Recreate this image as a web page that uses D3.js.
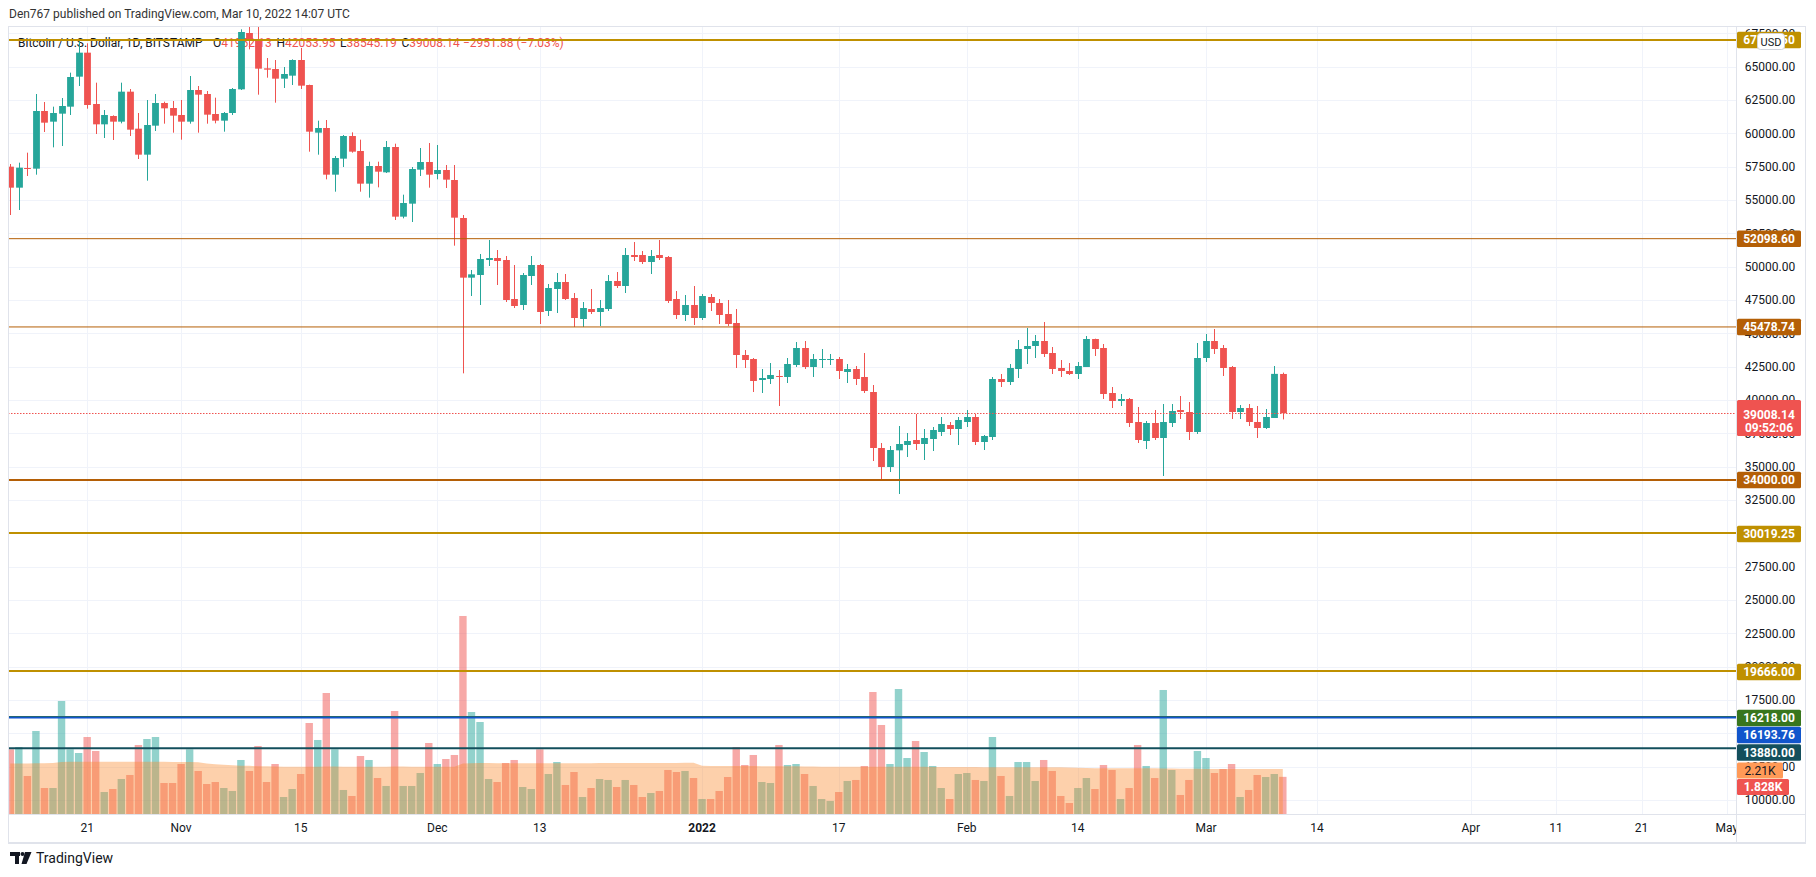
<!DOCTYPE html>
<html><head><meta charset="utf-8">
<script src="https://cdn.jsdelivr.net/npm/d3@7"></script>
<style>
html,body{margin:0;padding:0;background:#fff;}
svg{display:block;font-family:Roboto,"Noto Sans",sans-serif;}
</style></head>
<body>
<svg id="chart" width="1816" height="877"></svg>
<script>
// ---------------- DATA ----------------
const firstDay = "2021-10-12"; // first candle (daily, consecutive)
const opens = [57500,55925,57400,57350,61675,60875,61475,62000,64250,66050,62200,60675,61300,60875,63125,60350,58400,60575,62275,61900,
61375,60875,63250,62950,61450,60950,61525,63300,67525,67025,64875,64825,64100,64325,65500,63625,60050,60400,56900,58100,
59800,58675,56225,57550,57075,58975,53750,54725,57275,57850,56950,57250,56500,53650,49175,49375,50500,50650,50500,47575,
47125,49300,50125,46675,48325,48850,47650,46075,46825,46600,46825,48925,48550,50875,50875,50350,50875,50725,47575,46375,
47125,46150,47725,47275,46450,45775,43375,43075,41500,41575,41800,41725,42625,43900,42475,43000,43000,43075,42100,42325,
41725,40600,36400,34975,36225,36625,37000,36700,37075,37600,38125,37825,38350,38725,36850,37225,41575,41350,42325,43825,
44050,44425,43525,42400,42175,41950,42475,44575,43900,40525,39925,40075,38350,36925,38275,37150,38275,39250,39100,37600,
43150,44425,43900,42475,39100,39400,38350,37900,38650,41952.13];
const highs = [57700,57800,58550,62950,62350,62000,62650,64550,66950,66750,63800,61750,61350,63800,63325,61525,62500,62950,62375,62425,
62500,64300,63550,63175,62675,61600,63400,67800,68500,69000,65650,65500,64975,65550,66400,63650,60950,61000,58300,59875,
60075,59525,57875,57875,59425,59225,55400,57475,58900,59275,59125,57625,57625,53875,49750,50950,52000,51250,50800,50125,
49525,50800,50200,48700,49525,49450,48025,47350,48325,47500,49375,49600,51400,51850,51175,51250,52000,50800,48175,47875,
48550,47950,47950,47575,47500,46825,43750,43150,42325,42775,42250,43150,44350,44425,43450,43825,43450,43225,42700,42550,
43525,41125,36775,36550,38050,37525,38950,37825,37975,38725,38350,38725,39250,38950,37375,41725,41950,42700,44500,45400,
44875,45850,43975,43000,42775,42850,44800,44600,44200,40975,40450,40150,39475,38425,39250,39700,39700,40300,39850,44275,
44950,45325,44125,42550,39625,39700,39550,39325,42550,42053.95];
const lows = [53875,54250,56800,56900,60100,58950,59050,61375,63550,61850,59950,59650,59500,60750,59800,58075,56450,60175,60725,60050,
59525,60725,60050,60725,60750,60125,61375,63250,66300,62900,64175,62300,63400,63625,63325,58625,58400,56550,55625,57475,
58550,55625,55175,55950,57025,53500,53625,53350,56800,55925,56550,55900,51575,42000,47800,47125,50050,48625,47350,46900,
46750,48625,45700,46300,46525,47500,45475,45475,46450,45550,46675,48400,48025,50425,50200,49450,50500,47275,46075,45925,
45625,46000,46675,45700,45550,42400,42400,40600,40525,41200,39550,41275,42475,42325,41725,42400,42625,41575,41275,41125,
40525,35425,34075,34600,32950,35725,36250,35500,36175,37300,37375,36625,37975,36625,36250,37000,40975,41125,41650,42700,
43150,43225,41950,41725,41875,41575,42475,43300,40075,39400,39550,37975,36775,36325,37000,34300,37975,38575,37000,37450,
42850,43450,41800,38575,38575,38050,37150,37825,38650,38545.19];
const closes = [55925,57425,57350,61675,60800,61525,62050,64225,66050,62125,60675,61375,60875,63125,60275,58400,60625,62275,61875,61325,
60875,63250,62900,61400,60950,61525,63325,67600,67025,64850,64775,64100,64450,65500,63575,60125,60400,56900,58150,59800,
58625,56225,57550,57125,58975,53750,54775,57325,57850,56900,57250,56525,53675,49175,49425,50575,50650,50425,47500,47050,
49375,50125,46600,48400,48850,47575,46150,46900,46600,46900,48925,48550,50875,50725,50350,50800,50650,47425,46375,47125,
46150,47800,47275,46375,45700,43375,43000,41425,41650,41875,41725,42700,43900,42475,43075,43075,43075,42175,42325,41575,
40675,36400,34975,36250,36700,36925,36700,37150,37750,38200,37825,38500,38725,36850,37300,41575,41350,42400,43825,44050,
44425,43450,42325,42175,41950,42550,44575,43825,40450,39925,40075,38275,37000,38275,37150,38350,39175,39100,37600,43150,
44425,43825,42400,39100,39400,38350,37900,38725,41960.02,39008.14];
const volumes = [3182,3296,1870,4084,1279,1279,5560,3182,3001,3788,3100,1082,1230,1722,1919,3395,3690,3788,1525,1525,
2460,3182,2116,1476,1574,1279,1132,2657,2116,3346,1574,2460,836,1230,1968,4477,3641,5953,3182,1181,
886,2854,2657,1771,1378,5068,1378,1378,2017,3493,2460,2706,2903,9742,5018,4526,1722,1574,2509,2657,
1328,1230,3182,1968,2558,1427,2066,836,1279,1722,1673,1328,1673,1427,836,1033,1132,2165,2066,2116,
1771,738,738,1132,1820,3296,2411,2903,1574,1525,3395,2411,2460,1968,1378,738,640,1082,1624,1673,
2362,6002,4379,2460,6150,2755,3592,3050,2362,1279,738,1968,2017,1673,1624,3788,1870,886,2558,2558,
1624,2657,2116,886,541,1279,1771,1230,2411,2165,738,1279,3395,2362,1771,6101,2165,935,1673,3100,
2755,2017,2214,2460,836,1181,1919,1820,1968,1828];
const volumeMA = [2490,2490,2490,2500,2500,2510,2560,2570,2570,2570,2575,2575,2570,2570,2565,2565,2570,2570,2565,2560,
2560,2555,2550,2480,2450,2420,2400,2380,2370,2350,2350,2340,2330,2330,2330,2330,2330,2335,2335,2330,
2330,2330,2330,2330,2330,2335,2335,2330,2330,2330,2330,2330,2330,2480,2500,2510,2510,2500,2500,2500,
2500,2500,2500,2500,2500,2500,2500,2500,2500,2505,2505,2510,2510,2510,2510,2510,2515,2515,2515,2520,
2520,2370,2360,2360,2360,2360,2360,2360,2355,2355,2350,2350,2345,2340,2335,2330,2330,2325,2325,2320,
2320,2320,2320,2320,2320,2320,2320,2320,2315,2315,2315,2310,2310,2310,2300,2300,2300,2300,2300,2300,
2300,2300,2300,2300,2290,2280,2260,2250,2250,2250,2250,2250,2250,2245,2245,2240,2240,2230,2225,2225,
2220,2220,2220,2220,2215,2215,2215,2210,2210,2210];
const priceTicks = [10000,12500,15000,17500,20000,22500,25000,27500,30000,32500,35000,37500,40000,42500,45000,47500,50000,52500,55000,57500,60000,62500,65000,67500];
const timeTickDates = ["2021-10-21","2021-11-01","2021-11-15","2021-12-01","2021-12-13","2022-01-01","2022-01-17","2022-02-01","2022-02-14","2022-03-01","2022-03-14","2022-04-01","2022-04-11","2022-04-21","2022-05-01"];
const timeTickLabels = ["21","Nov","15","Dec","13","2022","17","Feb","14","Mar","14","Apr","11","21","May"];
const levelValues = [67008.50, 52098.60, 45478.74, 34000.00, 30019.25, 19666.00, 16218.00, 16193.76, 13880.00];
const levelColors = ["#bf9000","#b45f06","#b45f06","#b45f06","#bf9000","#bf9000","#38761d","#1155cc","#134f5c"];
const levelWidths = [2,1,1,2,2,2,2,2,2];
const lastPrice = 39008.14, lastCountdown = "09:52:06";
const legendTitle = "Bitcoin / U.S. Dollar, 1D, BITSTAMP";
const legendKeys = ["O","H","L","C"];
const legendVals = ["41952.13","42053.95","38545.19","39008.14"];
const legendChange = "\u22122951.88 (\u22127.03%)";

// ---------------- LAYOUT ----------------
const W=1816,H=877;
const plotL=8, plotR=1736, plotT=26, plotB=814, axisR=1806, axisB=842;
const svg=d3.select("#chart");
const t0=d3.utcParse("%Y-%m-%d");
const dates=d3.range(closes.length).map(i=>d3.utcDay.offset(t0(firstDay),i));
const x=d3.scaleUtc().domain([t0("2021-10-12"),t0("2022-05-03")]).range([10.3,1744.0]);
const y=d3.scaleLinear().domain([8950,68050]).range([plotB,plotT]);
const yv=d3.scaleLinear().domain([0,10000]).range([plotB,plotB-10000/49.2]);
const up="#26a69a", dn="#ef5350";

svg.append("rect").attr("width",W).attr("height",H).attr("fill","#fff");
svg.append("defs").append("clipPath").attr("id","plotclip").append("rect")
  .attr("x",plotL).attr("y",plotT).attr("width",plotR-plotL).attr("height",plotB-plotT);
svg.select("defs").append("clipPath").attr("id","xclip").append("rect")
  .attr("x",plotL).attr("y",plotB).attr("width",plotR-plotL).attr("height",axisB-plotB);

// header
svg.append("text").attr("x",9).attr("y",18).attr("font-size",12).attr("fill","#333")
  .text("Den767 published on TradingView.com, Mar 10, 2022 14:07 UTC");

// grid
const grid=svg.append("g").attr("clip-path","url(#plotclip)").attr("shape-rendering","crispEdges");
grid.selectAll(".hg").data(priceTicks).join("line").attr("x1",plotL).attr("x2",plotR)
  .attr("y1",d=>Math.round(y(d))+0.5).attr("y2",d=>Math.round(y(d))+0.5).attr("stroke","#f0f3fa");
grid.selectAll(".vg").data(timeTickDates).join("line").attr("y1",plotT).attr("y2",plotB)
  .attr("x1",d=>Math.round(x(t0(d)))+0.5).attr("x2",d=>Math.round(x(t0(d)))+0.5).attr("stroke","#f0f3fa");

// legend
const lg=svg.append("g").attr("font-size",12).attr("fill","#131722");
lg.append("text").attr("x",18).attr("y",46.5).text(legendTitle);
const keyX=[213,276.5,340,401.5];
legendKeys.forEach((k,i)=>{
  const t=lg.append("text").attr("x",keyX[i]).attr("y",46.5);
  t.append("tspan").text(k);
  t.append("tspan").attr("fill",dn).text(legendVals[i]);
});
lg.append("text").attr("x",463).attr("y",46.5).attr("fill",dn).text(legendChange);

const plot=svg.append("g").attr("clip-path","url(#plotclip)");
// volume
const bwV=7.4;
plot.append("g").selectAll("rect").data(dates).join("rect")
  .attr("x",(d,i)=>x(d)-bwV/2).attr("width",bwV)
  .attr("y",(d,i)=>yv(volumes[i])).attr("height",(d,i)=>plotB-yv(volumes[i]))
  .attr("fill",(d,i)=>closes[i]>=opens[i]?"rgba(38,166,154,0.5)":"rgba(239,83,80,0.5)");
plot.append("path").datum(dates)
  .attr("d",d3.area().x(d=>x(d)).y0(plotB).y1((d,i)=>yv(volumeMA[i])))
  .attr("fill","rgba(250,137,45,0.4)");

// candles
const bw=6.8;
const cg=plot.append("g");
dates.forEach((d,i)=>{
  const c=closes[i]>=opens[i]?up:dn;
  const cx=Math.round(x(d));
  cg.append("rect").attr("x",cx).attr("width",1).attr("y",y(highs[i])).attr("height",y(lows[i])-y(highs[i])).attr("fill",c);
  const top=y(Math.max(opens[i],closes[i])), bot=y(Math.min(opens[i],closes[i]));
  cg.append("rect").attr("x",cx+0.5-bw/2).attr("width",bw).attr("y",top).attr("height",Math.max(1,bot-top)).attr("fill",c);
});

// horizontal levels
levelValues.forEach((v,i)=>{
  plot.append("line").attr("x1",plotL).attr("x2",plotR).attr("y1",y(v)).attr("y2",y(v))
    .attr("stroke",levelColors[i]).attr("stroke-width",levelWidths[i]);
});
// last price dotted line
plot.append("line").attr("x1",plotL).attr("x2",plotR).attr("y1",Math.round(y(lastPrice))+0.5).attr("y2",Math.round(y(lastPrice))+0.5)
  .attr("stroke",dn).attr("stroke-width",1.2).attr("stroke-dasharray","1.5,1.5");

// frame
const fr=svg.append("g").attr("fill","none").attr("stroke","#e0e3eb").attr("shape-rendering","crispEdges");
fr.append("rect").attr("x",plotL+0.5).attr("y",plotT+0.5).attr("width",axisR-plotL-1).attr("height",axisB-plotT);
fr.append("line").attr("x1",plotR+0.5).attr("x2",plotR+0.5).attr("y1",plotT).attr("y2",axisB);
fr.append("line").attr("x1",plotL).attr("x2",axisR).attr("y1",plotB+0.5).attr("y2",plotB+0.5);
fr.append("line").attr("x1",plotL).attr("x2",axisR).attr("y1",axisB+1).attr("y2",axisB+1).attr("stroke-width",2);

// price axis labels
const ax=svg.append("g").attr("font-size",12).attr("fill","#131722").attr("text-anchor","middle");
ax.selectAll("text").data(priceTicks).join("text").attr("x",1770).attr("y",d=>y(d)+4.3)
  .text(d=>d3.format(".2f")(d));

// time axis labels
const tx=svg.append("g").attr("clip-path","url(#xclip)").attr("font-size",12).attr("fill","#131722").attr("text-anchor","middle");
tx.selectAll("text").data(timeTickDates).join("text").attr("x",d=>x(t0(d))).attr("y",832)
  .attr("font-weight",(d,i)=>timeTickLabels[i]==="2022"?"bold":null)
  .text((d,i)=>timeTickLabels[i]);

// level labels
function tag(cy,w,h,bg,txt,fg,weight){
  const g=svg.append("g");
  g.append("rect").attr("x",1737).attr("y",cy-h/2).attr("width",w).attr("height",h).attr("rx",1.5).attr("fill",bg);
  g.append("text").attr("x",1737+w/2).attr("y",cy+4.3).attr("text-anchor","middle").attr("font-size",12)
    .attr("font-weight",weight||"bold").attr("fill",fg).text(txt);
  return g;
}
const tagY=[40,238.7,327,480,534,672,718,735,752.5];
levelValues.forEach((v,i)=>tag(tagY[i],64,16.5,levelColors[i],d3.format(".2f")(v),"#fff"));
// last price tag
const lp=svg.append("g");
lp.append("rect").attr("x",1737).attr("y",400).attr("width",64).attr("height",36).attr("rx",1.5).attr("fill",dn);
lp.append("text").attr("x",1769).attr("y",419).attr("text-anchor","middle").attr("font-size",12).attr("font-weight","bold").attr("fill","#fff").text(d3.format(".2f")(lastPrice));
lp.append("text").attr("x",1769).attr("y",432).attr("text-anchor","middle").attr("font-size",12).attr("font-weight","bold").attr("fill","#fff").text(lastCountdown);
// volume tags
tag(770.5,46,16,"#ff9a57",d3.format(".3s")(volumeMA[volumeMA.length-1]).replace("k","K"),"#131722","normal");
tag(787,52,16,dn,(volumes[volumes.length-1]/1000).toFixed(3)+"K","#fff");
// USD badge
const ub=svg.append("g");
ub.append("rect").attr("x",1757.5).attr("y",33.5).attr("width",27).attr("height",16).attr("rx",3).attr("fill","#fff").attr("stroke","#d1d4dc");
ub.append("text").attr("x",1771).attr("y",45.5).attr("text-anchor","middle").attr("font-size",11).attr("fill","#131722").text("USD");

// footer logo
const lgo=svg.append("g").attr("fill","#131722");
lgo.append("rect").attr("x",10).attr("y",852).attr("width",10).attr("height",4);
lgo.append("rect").attr("x",15).attr("y",852).attr("width",4).attr("height",12);
lgo.append("circle").attr("cx",22.5).attr("cy",854).attr("r",2);
lgo.append("path").attr("d","M25,852 L31.5,852 L26.5,864 L21.5,864 Z");
svg.append("text").attr("x",36).attr("y",863).attr("font-size",14).attr("fill","#131722").text("TradingView");
</script>
</body></html>
